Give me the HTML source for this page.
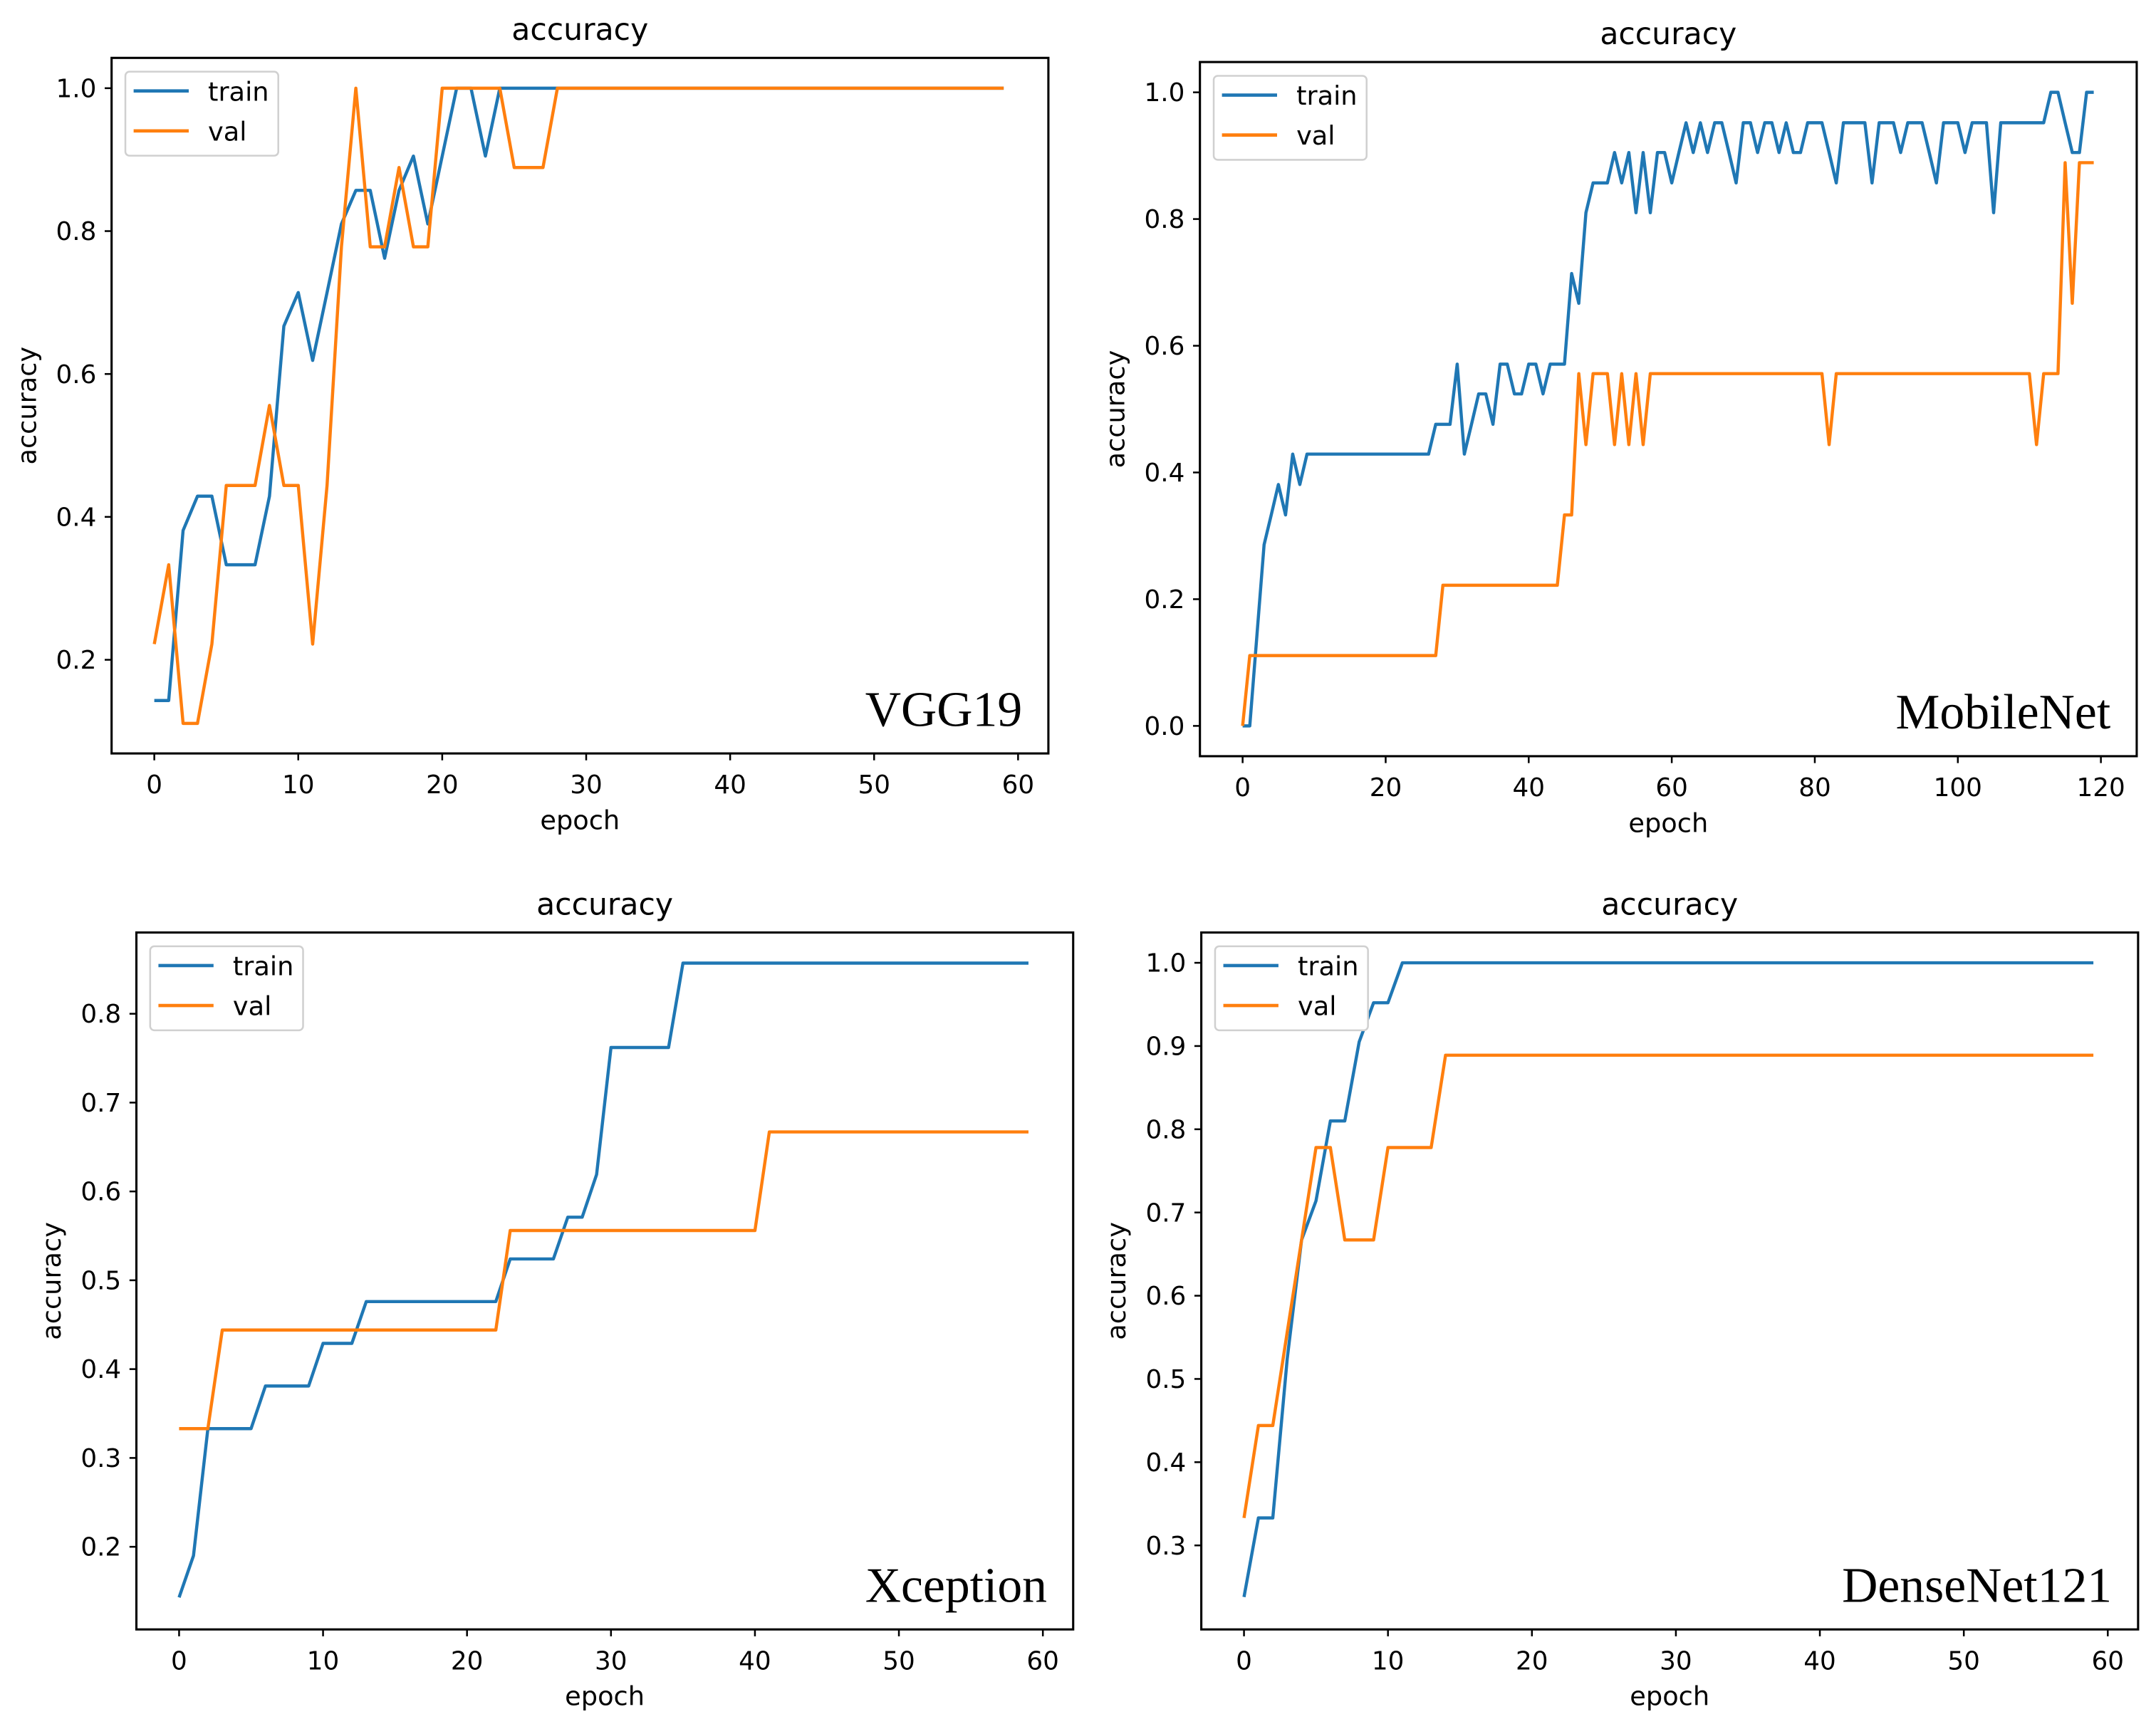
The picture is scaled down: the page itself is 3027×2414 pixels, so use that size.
<!DOCTYPE html>
<html><head><meta charset="utf-8"><style>html,body{margin:0;padding:0;background:#fff}svg{display:block}</style></head>
<body>
<svg id="fig" width="3027" height="2414" viewBox="0 0 1565 1248" xmlns="http://www.w3.org/2000/svg" font-family="'DejaVu Sans', 'Liberation Sans', sans-serif"></svg>
<script>
const vggTrain=[0.143,0.143,0.381,0.429,0.429,0.333,0.333,0.333,0.429,0.667,0.714,0.619,0.714,0.81,0.857,0.857,0.762,0.857,0.905,0.81,0.905,1,1,0.905,1,1,1,1,1,1,1,1,1,1,1,1,1,1,1,1,1,1,1,1,1,1,1,1,1,1,1,1,1,1,1,1,1,1,1,1];
const vggVal=[0.222,0.333,0.111,0.111,0.222,0.444,0.444,0.444,0.556,0.444,0.444,0.222,0.444,0.778,1,0.778,0.778,0.889,0.778,0.778,1,1,1,1,1,0.889,0.889,0.889,1,1,1,1,1,1,1,1,1,1,1,1,1,1,1,1,1,1,1,1,1,1,1,1,1,1,1,1,1,1,1,1];
const mobTrain=[0,0,0.143,0.286,0.333,0.381,0.333,0.429,0.381,0.429,0.429,0.429,0.429,0.429,0.429,0.429,0.429,0.429,0.429,0.429,0.429,0.429,0.429,0.429,0.429,0.429,0.429,0.476,0.476,0.476,0.571,0.429,0.476,0.524,0.524,0.476,0.571,0.571,0.524,0.524,0.571,0.571,0.524,0.571,0.571,0.571,0.714,0.667,0.81,0.857,0.857,0.857,0.905,0.857,0.905,0.81,0.905,0.81,0.905,0.905,0.857,0.905,0.952,0.905,0.952,0.905,0.952,0.952,0.905,0.857,0.952,0.952,0.905,0.952,0.952,0.905,0.952,0.905,0.905,0.952,0.952,0.952,0.905,0.857,0.952,0.952,0.952,0.952,0.857,0.952,0.952,0.952,0.905,0.952,0.952,0.952,0.905,0.857,0.952,0.952,0.952,0.905,0.952,0.952,0.952,0.81,0.952,0.952,0.952,0.952,0.952,0.952,0.952,1,1,0.952,0.905,0.905,1,1];
const mobVal=[0,0.111,0.111,0.111,0.111,0.111,0.111,0.111,0.111,0.111,0.111,0.111,0.111,0.111,0.111,0.111,0.111,0.111,0.111,0.111,0.111,0.111,0.111,0.111,0.111,0.111,0.111,0.111,0.222,0.222,0.222,0.222,0.222,0.222,0.222,0.222,0.222,0.222,0.222,0.222,0.222,0.222,0.222,0.222,0.222,0.333,0.333,0.556,0.444,0.556,0.556,0.556,0.444,0.556,0.444,0.556,0.444,0.556,0.556,0.556,0.556,0.556,0.556,0.556,0.556,0.556,0.556,0.556,0.556,0.556,0.556,0.556,0.556,0.556,0.556,0.556,0.556,0.556,0.556,0.556,0.556,0.556,0.444,0.556,0.556,0.556,0.556,0.556,0.556,0.556,0.556,0.556,0.556,0.556,0.556,0.556,0.556,0.556,0.556,0.556,0.556,0.556,0.556,0.556,0.556,0.556,0.556,0.556,0.556,0.556,0.556,0.444,0.556,0.556,0.556,0.889,0.667,0.889,0.889,0.889];
const xcpTrain=[0.143,0.19,0.333,0.333,0.333,0.333,0.381,0.381,0.381,0.381,0.429,0.429,0.429,0.476,0.476,0.476,0.476,0.476,0.476,0.476,0.476,0.476,0.476,0.524,0.524,0.524,0.524,0.571,0.571,0.619,0.762,0.762,0.762,0.762,0.762,0.857,0.857,0.857,0.857,0.857,0.857,0.857,0.857,0.857,0.857,0.857,0.857,0.857,0.857,0.857,0.857,0.857,0.857,0.857,0.857,0.857,0.857,0.857,0.857,0.857];
const xcpVal=[0.333,0.333,0.333,0.444,0.444,0.444,0.444,0.444,0.444,0.444,0.444,0.444,0.444,0.444,0.444,0.444,0.444,0.444,0.444,0.444,0.444,0.444,0.444,0.556,0.556,0.556,0.556,0.556,0.556,0.556,0.556,0.556,0.556,0.556,0.556,0.556,0.556,0.556,0.556,0.556,0.556,0.667,0.667,0.667,0.667,0.667,0.667,0.667,0.667,0.667,0.667,0.667,0.667,0.667,0.667,0.667,0.667,0.667,0.667,0.667];
const dnTrain=[0.238,0.333,0.333,0.524,0.667,0.714,0.81,0.81,0.905,0.952,0.952,1,1,1,1,1,1,1,1,1,1,1,1,1,1,1,1,1,1,1,1,1,1,1,1,1,1,1,1,1,1,1,1,1,1,1,1,1,1,1,1,1,1,1,1,1,1,1,1,1];
const dnVal=[0.333,0.444,0.444,0.556,0.667,0.778,0.778,0.667,0.667,0.667,0.778,0.778,0.778,0.778,0.889,0.889,0.889,0.889,0.889,0.889,0.889,0.889,0.889,0.889,0.889,0.889,0.889,0.889,0.889,0.889,0.889,0.889,0.889,0.889,0.889,0.889,0.889,0.889,0.889,0.889,0.889,0.889,0.889,0.889,0.889,0.889,0.889,0.889,0.889,0.889,0.889,0.889,0.889,0.889,0.889,0.889,0.889,0.889,0.889,0.889];
const xTicks60=[0,10,20,30,40,50,60];
const xTicks120=[0,20,40,60,80,100,120];
const yTicksVgg=[0.2,0.4,0.6,0.8,1.0];
const yTicksMob=[0.0,0.2,0.4,0.6,0.8,1.0];
const yTicksXcp=[0.2,0.3,0.4,0.5,0.6,0.7,0.8];
const yTicksDn=[0.3,0.4,0.5,0.6,0.7,0.8,0.9,1.0];

const NS='http://www.w3.org/2000/svg';
const fig=document.getElementById('fig');
function mk(tag,attrs,parent,text){const e=document.createElementNS(NS,tag);for(const k in attrs)e.setAttribute(k,attrs[k]);if(text!==undefined)e.textContent=text;(parent||fig).appendChild(e);return e;}

function panel(o){
  const g=mk('g',{});
  
  
  const sx=v=>o.x0+(v-o.xa)*(o.x1-o.x0)/(o.xb-o.xa);
  const sy=v=>o.y0+(v-o.ya)*(o.y1-o.y0)/(o.yb-o.ya);
  const t=mk('text',{x:(o.L+o.R)/2,y:o.T-13,'font-size':22,'text-anchor':'middle'},g,'accuracy');
  
  
  o.xt.forEach(v=>{
    mk('line',{x1:sx(v),x2:sx(v),y1:o.B,y2:o.B+5,stroke:'#000','stroke-width':1.3},g);
    const l=mk('text',{x:sx(v),y:o.B+29,'font-size':18.5,'text-anchor':'middle'},g,String(v));
    
    
  });
  o.yt.forEach(v=>{
    mk('line',{x1:o.L-5,x2:o.L,y1:sy(v),y2:sy(v),stroke:'#000','stroke-width':1.3},g);
    const l=mk('text',{x:o.L-11,y:sy(v)+6.5,'font-size':18.5,'text-anchor':'end'},g,v.toFixed(1));
    
    
  });
  const xl=mk('text',{x:(o.L+o.R)/2,y:o.B+55,'font-size':19,'text-anchor':'middle'},g,'epoch');
  
  
  const yc=(o.T+o.B)/2;
  const yl=mk('text',{x:o.ylx,y:yc,'font-size':19,'text-anchor':'middle',transform:`rotate(-90 ${o.ylx} ${yc})`},g,'accuracy');
  
  
  [[o.train,'#1f77b4','train-line'],[o.val,'#ff7f0e','val-line']].forEach(([d,c,n])=>{
    const p=mk('polyline',{points:d.map((v,i)=>sx(i).toFixed(2)+','+sy(v).toFixed(2)).join(' '),fill:'none',stroke:c,'stroke-width':2.3,'stroke-linejoin':'round'},g);
    
    
  });
  mk('rect',{x:o.L,y:o.T,width:o.R-o.L,height:o.B-o.T,fill:'none',stroke:'#000','stroke-width':1.6},g);
  const lg=mk('g',{},g);
  
  
  mk('rect',{x:o.L+10,y:o.T+10,width:111,height:61,rx:3,fill:'#fff',stroke:'#d0d0d0','stroke-width':1.3},lg);
  [['train','#1f77b4',24],['val','#ff7f0e',53]].forEach(([n,c,dy])=>{
    mk('line',{x1:o.L+16,x2:o.L+56,y1:o.T+dy,y2:o.T+dy,stroke:c,'stroke-width':2.4},lg);
    const e=mk('text',{x:o.L+70,y:o.T+dy+7,'font-size':19},lg,n);
    
    
  });
  const mn=mk('text',{x:o.R-19,y:o.B-20,'font-size':36,'text-anchor':'end','font-family':"'Liberation Serif', serif"},g,o.name);
  
  
}
panel({id:'vgg19',name:'VGG19',L:81,R:761,T:42,B:547,x0:112,x1:739,xa:0,xb:60,y0:64,y1:479,ya:1.0,yb:0.2,xt:xTicks60,yt:yTicksVgg,ylx:26,train:vggTrain,val:vggVal});
panel({id:'mobilenet',name:'MobileNet',L:871,R:1551,T:45,B:549,x0:902,x1:1525,xa:0,xb:120,y0:527,y1:67,ya:0,yb:1.0,xt:xTicks120,yt:yTicksMob,ylx:816,train:mobTrain,val:mobVal});
panel({id:'xception',name:'Xception',L:99,R:779,T:677,B:1183,x0:130,x1:757,xa:0,xb:60,y0:736,y1:1123,ya:0.8,yb:0.2,xt:xTicks60,yt:yTicksXcp,ylx:44,train:xcpTrain,val:xcpVal});
panel({id:'densenet121',name:'DenseNet121',L:872,R:1552,T:677,B:1183,x0:903,x1:1530,xa:0,xb:60,y0:699,y1:1122,ya:1.0,yb:0.3,xt:xTicks60,yt:yTicksDn,ylx:817,train:dnTrain,val:dnVal});
</script>
</body></html>
